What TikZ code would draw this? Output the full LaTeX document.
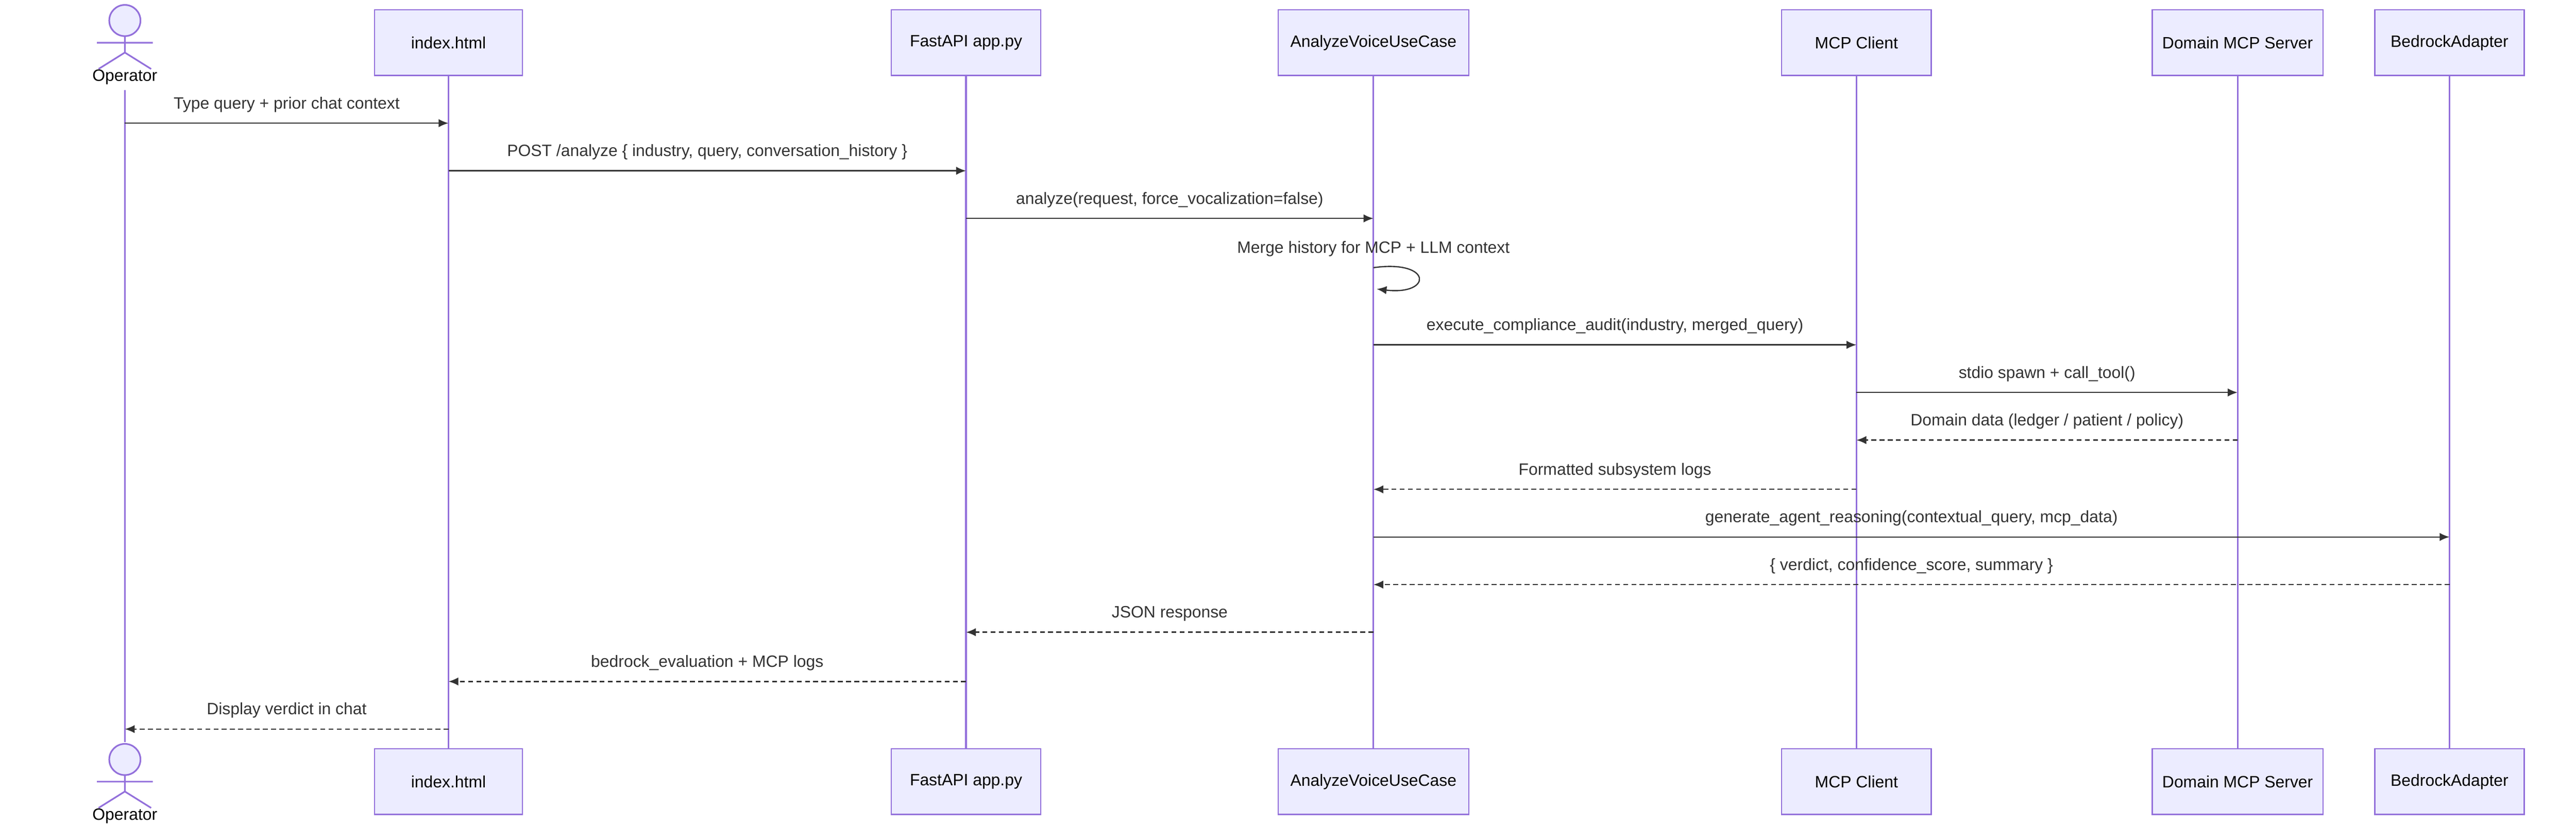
\documentclass[tikz,border=0pt]{standalone}
\usepackage{fontspec}
\setmainfont{Liberation Sans}
\definecolor{boxfill}{HTML}{ECECFF}
\definecolor{boxline}{HTML}{9370DB}
\definecolor{msgline}{HTML}{333333}
\usetikzlibrary{arrows.meta,positioning}
\tikzset{every picture/.style={line width=0.75pt}}
\tikzset{
  part/.style={draw=boxline,fill=boxfill,minimum height=40pt,inner sep=0pt,font=\fontsize{10}{12}\selectfont},
  life/.style={draw=boxline,line width=1pt},
  msg/.style={draw=msgline,-{Latex[length=6pt,width=5pt]}},
  reply/.style={msg,dash pattern=on 3pt off 2pt},
  lbl/.style={font=\fontsize{10}{12}\selectfont,text=msgline,above=3pt}
}
\begin{document}
\begin{tikzpicture}[x=1pt,y=-1pt]
\useasboundingbox (0,0) rectangle (1568,503);

% participants (top and bottom)
\foreach \name/\xx/\ww/\txt in {ix/273/90/index.html, fa/588/91/FastAPI app.py,
  av/836/116/AnalyzeVoiceUseCase, mc/1130/91/MCP Client,
  dm/1362/104/Domain MCP Server, br/1491/91/BedrockAdapter}{
  \node[part,minimum width=\ww pt] (\name-t) at (\xx,26) {\txt};
  \node[part,minimum width=\ww pt] (\name-b) at (\xx,476) {\txt};
  \draw[life] (\name-t.south) -- (\name-b.north);
}

% actor
\foreach \pos/\yy in {t/0,b/450}{
  \begin{scope}[yshift=-\yy pt]
    \draw[boxline,fill=boxfill,line width=1pt] (76,12.5) circle (9.5);
    \draw[boxline,line width=1pt] (76,22) -- (76,32) (59,26) -- (93,26)
      (76,32) -- (60,42) (76,32) -- (92,42);
  \end{scope}
  \node[font=\fontsize{10}{12}\selectfont] (op-\pos) at (76,47+\yy) {Operator};
}
\draw[life] (76,55) -- (76,452);

% messages
\foreach \a/\b/\yy/\sty/\txt in {
  op/ix/75/msg/{Type query + prior chat context},
  ix/fa/104/msg/{POST /analyze \{ industry, query, conversation\_history \}},
  fa/av/133/msg/{analyze(request, force\_vocalization=false)},
  av/mc/210/msg/{execute\_compliance\_audit(industry, merged\_query)},
  mc/dm/239/msg/{stdio spawn + call\_tool()},
  dm/mc/268/reply/{Domain data (ledger / patient / policy)},
  mc/av/298/reply/{Formatted subsystem logs},
  av/br/327/msg/{generate\_agent\_reasoning(contextual\_query, mcp\_data)},
  br/av/356/reply/{\{ verdict, confidence\_score, summary \}},
  av/fa/385/reply/{JSON response},
  fa/ix/415/reply/{bedrock\_evaluation + MCP logs},
  ix/op/444/reply/{Display verdict in chat}}{
  \coordinate (s) at (\a-t.south |- 0,\yy);
  \coordinate (e) at (\b-t.south |- 0,\yy);
  \draw[\sty] (s) -- (e) node[midway,lbl] {\txt};
}

% self message
\coordinate (sm) at (836,163);
\draw[msg] (sm) .. controls (872,158) and (872,180) .. (838,176);
\node[lbl] at (836,163) {Merge history for MCP + LLM context};
\end{tikzpicture}
\end{document}
